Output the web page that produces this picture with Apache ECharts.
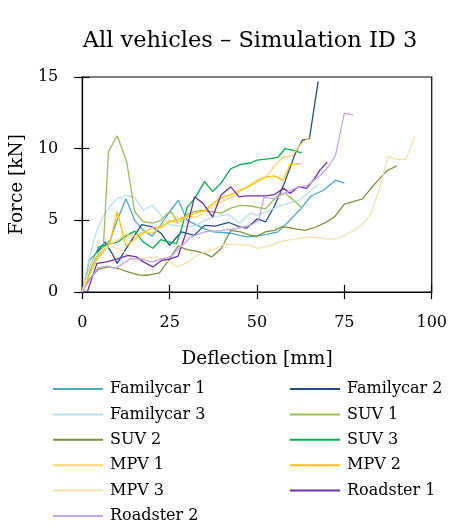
<!DOCTYPE html>
<html>
<head>
<meta charset="utf-8">
<script src="https://cdn.jsdelivr.net/npm/echarts@6/dist/echarts.min.js"></script>
<style>
  html, body { margin: 0; padding: 0; background: #fff; }
  #chart { width: 450px; height: 527px; }
</style>
</head>
<body>
<div id="chart"></div>
<script>
// Force–deflection curves, [deflection mm, force kN]
const familycar1 = [[0,0],[2,2.2],[4,2.7],[6,3.1],[8,3.6],[10,5.0],[12.5,6.5],[15,5.0],[17.5,4.3],[20,3.9],[22.5,4.7],[25,5.6],[27.5,6.4],[30,5.0],[32.5,4.7],[35,4.4],[37.5,4.2],[40,4.15],[42.5,4.1],[45,3.95],[47.5,3.85],[50,3.9],[52.5,4.0],[56,4.2],[59,4.9],[62.5,5.8],[65.5,6.7],[69,7.1],[72.5,7.8],[75,7.6]];
const familycar2 = [[0,0],[2,1.6],[4,2.7],[6.5,3.5],[8.5,2.7],[10,2.0],[13,3.2],[17,4.7],[20,4.55],[22.5,4.1],[25,3.25],[28.4,4.2],[32,3.95],[35,4.65],[38,4.6],[42,4.85],[45,4.55],[47,4.45],[50,5.1],[52.5,4.9],[55,6.0],[58,7.7],[61,9.7],[63,10.6],[65,10.7],[67.5,14.7]];
const familycar3 = [[0,0],[2,2.4],[4,4.2],[6,5.3],[8,6.0],[10,6.5],[12.5,6.75],[15,6.6],[17.5,5.7],[20,6.05],[22,5.5],[25,4.7],[27.5,4.6],[30,4.55],[32.5,4.65],[35,5.0],[37.5,5.2],[40,5.35],[42,5.4],[45,4.8],[48,5.5],[50,5.35],[52.5,5.6],[56,5.95],[59,6.2],[62,6.4],[65,7.0],[67.5,7.5]];
const suv1 = [[0,0],[2,1.5],[4,2.4],[6,3.0],[7.5,9.8],[10,10.9],[12.7,9.1],[15,5.6],[17.4,4.9],[20.2,4.8],[22.5,5.0],[24.4,5.5],[25.6,5.55],[27.4,4.8],[29.8,5.4],[32,5.6],[34,5.7],[37,5.6],[39.7,5.5],[42.5,5.85],[45.3,6.05],[48.2,6.0],[52.4,5.8],[56.2,6.8],[58,6.9],[60,6.5],[62.8,5.9]];
const suv2 = [[0,0],[2,0.9],[4.7,1.6],[7.5,1.75],[10.3,1.64],[13.1,1.4],[16,1.2],[18.8,1.17],[22.1,1.33],[24.4,2.1],[27.4,3.2],[30,2.95],[32.5,2.85],[35,2.7],[37,2.45],[39.7,3.0],[42.5,4.3],[45.3,4.2],[48.2,3.95],[50,3.9],[52.4,4.2],[55,4.3],[57.1,4.55],[59,4.5],[61,4.4],[63.7,4.3],[66.5,4.5],[69.3,4.8],[72.2,5.24],[75,6.13],[80.2,6.5],[82.5,7.2],[84.9,7.86],[87.2,8.46],[90,8.8]];
const suv3 = [[0,0],[2.8,1.9],[4.7,3.15],[7,3.3],[10.3,3.5],[12.5,3.9],[15,4.25],[17.4,3.5],[20.2,3.05],[22.5,3.65],[24.6,3.5],[27,3.4],[28.5,4.5],[30,5.9],[32.1,6.5],[35,7.7],[37.3,7.0],[39.7,7.6],[42.5,8.6],[45.3,8.9],[48.2,9.0],[50,9.2],[53.8,9.3],[56,9.4],[58,10.0],[60,9.9],[62.8,9.7]];
const mpv1 = [[0,0],[2,1.5],[4,2.6],[7,3.2],[10,3.6],[12.5,4.0],[15,3.9],[17.5,4.2],[20,4.1],[22.5,4.6],[25,5.0],[27.5,4.8],[30,5.3],[32.5,5.2],[35,5.6],[37.5,6.0],[40,6.3],[42.5,6.6],[45,7.0],[47.5,7.4],[50,7.8],[52.5,8.0],[55,8.8],[57.5,9.4],[60,9.5],[62.5,10.3],[65,10.8]];
const mpv2 = [[0,0],[2,1.2],[4,2.2],[6,2.8],[8,3.5],[10,5.6],[12.5,3.2],[15,3.7],[17.5,4.1],[20,4.5],[22.5,4.5],[25,4.9],[27.5,5.1],[30,5.3],[32.5,5.5],[35,5.7],[37.5,6.2],[40,6.6],[42.5,6.8],[45,7.1],[48,7.4],[52,8.0],[55,8.1],[57.5,7.8],[59.5,8.9],[62.5,8.95]];
const mpv3 = [[0,0],[2,1.6],[4,2.6],[6.7,3.15],[9,3.1],[11.5,2.9],[14.7,2.2],[18,2.4],[21.3,2.45],[24,2.2],[27.4,1.75],[30.3,2.1],[32.5,2.5],[35,2.8],[38,3.0],[40.6,3.35],[44,3.3],[48.2,3.27],[50,3.03],[53.5,3.2],[57.1,3.55],[61,3.7],[65.1,3.85],[69.3,3.73],[72.2,3.68],[75,3.96],[77.8,4.3],[80.2,4.73],[82.5,5.43],[84.9,7.1],[87.5,9.44],[90,9.26],[92.6,9.26],[95.2,10.84]];
const roadster1 = [[0,0],[1.5,0.05],[4.2,2.0],[7,2.1],[10.3,2.33],[13.1,2.55],[15.5,2.45],[17.5,2.1],[20.2,1.75],[22.7,2.2],[25,2.3],[27.4,2.5],[29.5,4.0],[32.1,6.64],[34.5,6.2],[37.3,5.24],[39.7,6.76],[42.5,7.34],[44.9,6.64],[47,6.7],[52.4,6.7],[55,6.8],[57.6,7.23],[59.5,6.88],[61.8,7.34],[64.2,7.23],[66.5,7.93],[68,8.5],[70.1,9.05]];
const roadster2 = [[0,0],[2,0.8],[4.5,1.7],[7,1.8],[9.5,1.65],[13.8,2.33],[17,2.3],[20,2.1],[22.7,2.3],[25.5,2.5],[28,3.1],[31.2,3.85],[35,4.2],[40,4.3],[44.4,4.43],[48.2,4.66],[50.5,5.0],[52,6.6],[55,6.5],[58,6.9],[60.9,7.23],[64.6,7.46],[68.4,8.2],[70.8,8.86],[72.5,9.56],[75,12.47],[77.5,12.36]];

const seriesNames = ['Familycar 1','Familycar 2','Familycar 3','SUV 1','SUV 2','SUV 3','MPV 1','MPV 2','MPV 3','Roadster 1','Roadster 2'];
const seriesData = [familycar1, familycar2, familycar3, suv1, suv2, suv3, mpv1, mpv2, mpv3, roadster1, roadster2];
const seriesColors = ['#4bacc6','#1f4e89','#b9e0ea','#9bbb59','#77933c','#00b050','#ffd36b','#ffc000','#f3e2ae','#7030a0','#c5a5e8'];

const xTicks = { min: 0, max: 100, interval: 25 };
const yTicks = { min: 0, max: 15, interval: 5 };

const FONT = 'DejaVu Serif';
const chart = echarts.init(document.getElementById('chart'), null, { renderer: 'canvas' });

const axisText = { fontFamily: FONT, fontSize: 16, color: '#000' };
const legendBase = {
  orient: 'vertical',
  top: 379,
  padding: 0,
  height: 148,
  icon: 'rect',
  itemWidth: 50,
  itemHeight: 2,
  itemGap: 5.4,
  textStyle: { fontFamily: FONT, fontSize: 16, color: '#000', lineHeight: 20, padding: [0, 0, 0, 2] },
  selectedMode: false
};

chart.setOption({
  animation: false,
  backgroundColor: '#fff',
  title: {
    text: 'All vehicles – Simulation ID 3',
    left: 245, top: 25, textAlign: 'center',
    textStyle: { fontFamily: FONT, fontSize: 22.5, fontWeight: 'normal', color: '#000' }
  },
  legend: [
    Object.assign({}, legendBase, { left: 53, data: ['Familycar 1','Familycar 3','SUV 2','MPV 1','MPV 3','Roadster 2'] }),
    Object.assign({}, legendBase, { left: 290, data: ['Familycar 2','SUV 1','SUV 3','MPV 2','Roadster 1'] })
  ],
  grid: {
    left: 80, top: 77, width: 353, height: 215,
    show: true, borderColor: '#000', borderWidth: 1.2, backgroundColor: 'transparent'
  },
  xAxis: [
    {
      type: 'value', min: xTicks.min, max: xTicks.max, interval: xTicks.interval,
      name: 'Deflection [mm]', nameLocation: 'middle', nameGap: 58,
      nameTextStyle: { fontFamily: FONT, fontSize: 18.5, color: '#000' },
      axisLine: { show: true, lineStyle: { color: '#000', width: 1.2 } },
      axisTick: { show: true, inside: false, length: 7, lineStyle: { color: '#000', width: 1.2 } },
      axisLabel: Object.assign({ margin: 23 }, axisText),
      splitLine: { show: false }
    },
    {
      type: 'value', min: xTicks.min, max: xTicks.max, interval: xTicks.interval,
      position: 'bottom', gridIndex: 0,
      axisLine: { show: false },
      axisTick: { show: true, inside: true, length: 7, lineStyle: { color: '#000', width: 1.2 } },
      axisLabel: { show: false },
      splitLine: { show: false }
    }
  ],
  yAxis: [
    {
      type: 'value', min: yTicks.min, max: yTicks.max, interval: yTicks.interval,
      name: 'Force [kN]', nameLocation: 'middle', nameGap: 52,
      nameTextStyle: { fontFamily: FONT, fontSize: 18.5, color: '#000' },
      axisLine: { show: true, lineStyle: { color: '#000', width: 1.2 } },
      axisTick: { show: true, inside: false, length: 8, lineStyle: { color: '#000', width: 1.2 } },
      axisLabel: Object.assign({ margin: 24 }, axisText),
      splitLine: { show: false }
    },
    {
      type: 'value', min: yTicks.min, max: yTicks.max, interval: yTicks.interval,
      position: 'left', gridIndex: 0,
      axisLine: { show: false },
      axisTick: { show: true, inside: true, length: 7, lineStyle: { color: '#000', width: 1.2 } },
      axisLabel: { show: false },
      splitLine: { show: false }
    }
  ],
  series: seriesNames.map((name, i) => ({
    name: name,
    type: 'line',
    xAxisIndex: 0,
    yAxisIndex: 0,
    data: seriesData[i],
    symbol: 'none',
    color: seriesColors[i],
    lineStyle: { color: seriesColors[i], width: 1.3 },
    itemStyle: { color: seriesColors[i] }
  }))
});
</script>
</body>
</html>
